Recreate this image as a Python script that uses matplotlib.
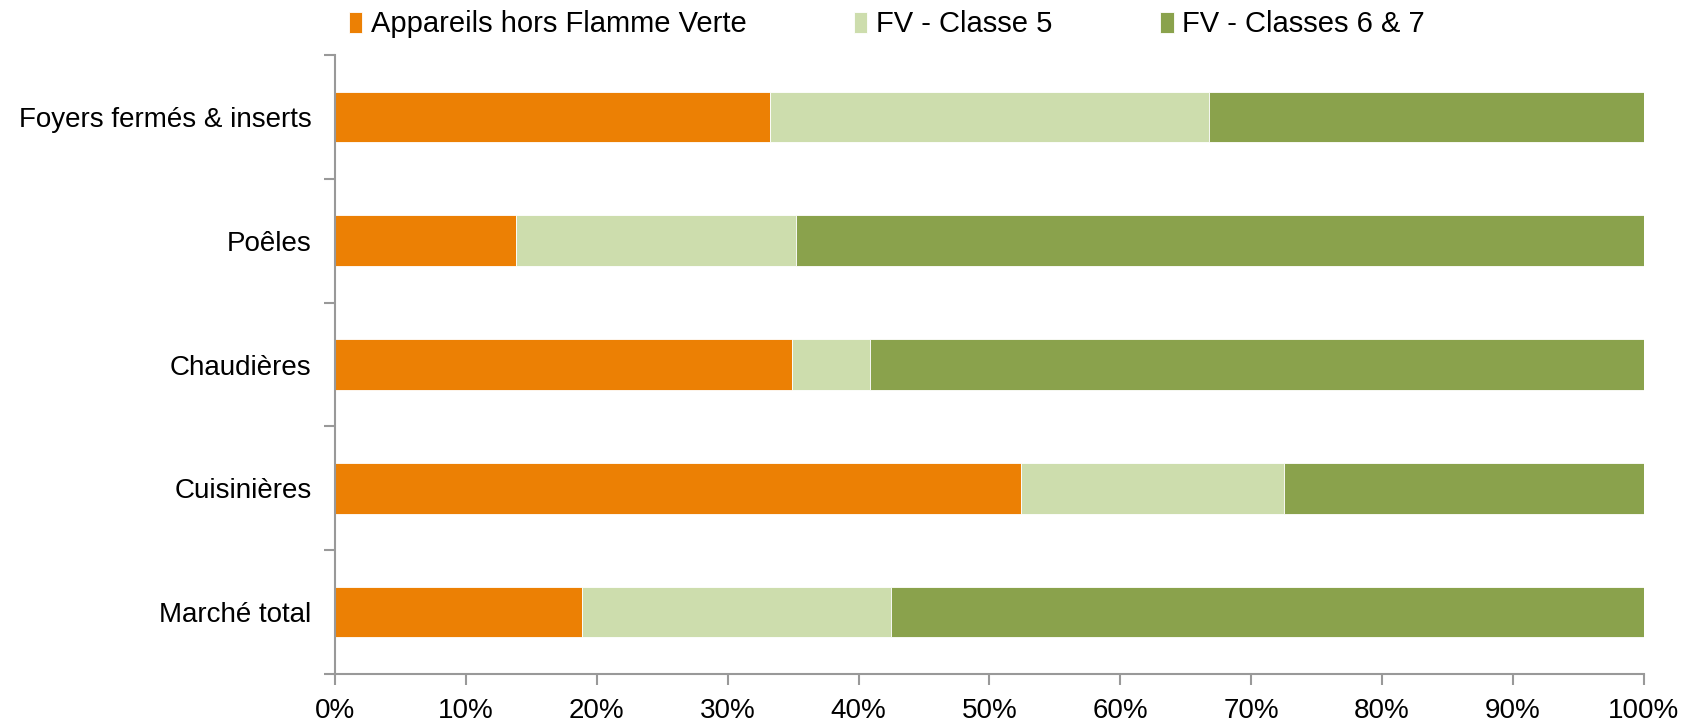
import matplotlib.pyplot as plt
from matplotlib.ticker import PercentFormatter

plt.rcParams['font.family'] = ['Liberation Sans', 'DejaVu Sans']

categories = ["Marché total", "Cuisinières", "Chaudières", "Poêles", "Foyers fermés & inserts"]
hors_fv = [18.9, 52.4, 34.9, 13.8, 33.2]
classe5 = [23.6, 20.1, 6.0, 21.4, 33.6]
classes67 = [57.5, 27.5, 59.1, 64.8, 33.2]
series_names = ["Appareils hors Flamme Verte", "FV - Classe 5", "FV - Classes 6 & 7"]
colors = ["#EC8004", "#CDDDAD", "#8AA24C"]

fig = plt.figure(figsize=(16.86, 7.22), dpi=100)
ax = fig.add_axes([0.1987, 0.0665, 0.7763, 0.857])

y = range(len(categories))
left = [0] * len(categories)
handles = []
for vals, name, c in zip([hors_fv, classe5, classes67], series_names, colors):
    b = ax.barh(y, vals, left=left, height=0.41, color=c, edgecolor="white",
                linewidth=0.6, label=name)
    handles.append(b)
    left = [l + v for l, v in zip(left, vals)]

ax.set_xlim(0, 100)
ax.set_ylim(-0.5, len(categories) - 0.5)
ax.set_xticks(range(0, 101, 10))
ax.xaxis.set_major_formatter(PercentFormatter(decimals=0))
ax.set_yticks(list(y))
ax.set_yticklabels(categories)
ax.set_yticks([i - 0.5 for i in range(len(categories) + 1)], minor=True)
ax.tick_params(axis="y", which="major", length=0, pad=17, labelsize=20)
ax.tick_params(axis="y", which="minor", length=8, color="#999999", width=1.5)
ax.tick_params(axis="x", length=8, color="#999999", width=1.5, labelsize=20, pad=9)

for s in ["top", "right"]:
    ax.spines[s].set_visible(False)
for s in ["left", "bottom"]:
    ax.spines[s].set_color("#999999")
    ax.spines[s].set_linewidth(1.5)

fig.legend(handles=handles, labels=series_names, loc="upper center",
           bbox_to_anchor=(0.526, 1.022), ncol=3, frameon=False, fontsize=21,
           handlelength=0.45, handleheight=0.75, handletextpad=0.3,
           columnspacing=3.7)

fig.savefig("out.png", dpi=100)
